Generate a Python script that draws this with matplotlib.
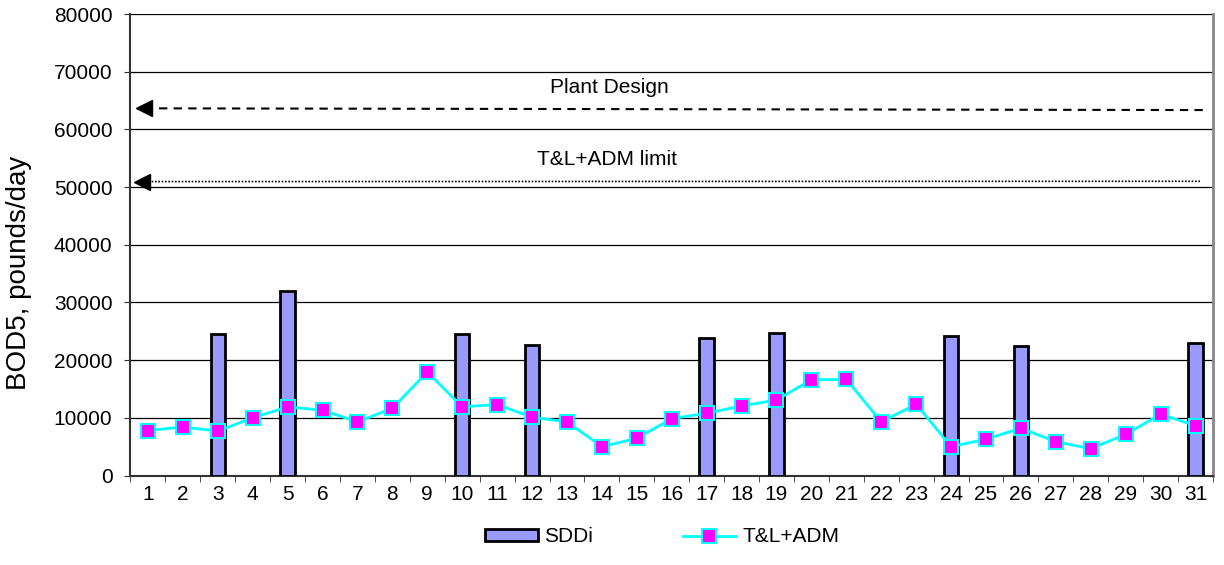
import numpy as np
import matplotlib.pyplot as plt
from matplotlib.ticker import MultipleLocator, FixedLocator

plt.rcParams['font.family'] = ['Liberation Sans', 'DejaVu Sans']

# Daily BOD5 loads, pounds/day
days = np.arange(1, 32)
tl_adm = [7800, 8400, 7700, 10000, 11900, 11300, 9300, 11650, 17950, 11900,
          12300, 10100, 9300, 5000, 6450, 9850, 10800, 12050, 13100, 16600,
          16650, 9300, 12350, 5000, 6300, 8200, 5850, 4650, 7150, 10600, 8650]
sddi_days = [3, 5, 10, 12, 17, 19, 24, 26, 31]
sddi = [24600, 32000, 24450, 22600, 23900, 24700, 24250, 22450, 22950]

# hand-drawn reference lines (left end, right end)
plant_design = [63650, 63350]
tl_limit = [50950, 51000]

fig = plt.figure(figsize=(12.24, 5.65), dpi=100)
ax = fig.add_axes([0.1066, 0.1584, 0.8844, 0.8168])

bars = ax.bar(sddi_days, sddi, width=0.41, color='#9999FF', edgecolor='black',
              linewidth=2, zorder=3, label='SDDi')
line, = ax.plot(days, tl_adm, color='#00FFFF', linewidth=2, marker='s', markersize=10,
                markerfacecolor='#FF00FF', markeredgecolor='#00FFFF', markeredgewidth=1.5,
                zorder=4, label='T&L+ADM')

# reference lines with arrowheads
ax.plot([0.9, 31.27], plant_design, color='black', linewidth=1.5,
        dashes=(4, 3), zorder=2)
ax.plot([0.9], plant_design[:1], marker='<', color='black', markersize=11, zorder=2)
ax.text(14.2, 67200, 'Plant Design', ha='center', va='center', fontsize=15)

ax.plot([0.82, 31.13], tl_limit, color='black', linewidth=1.2,
        linestyle=(0, (1, 1)), zorder=2)
ax.plot([0.82], tl_limit[:1], marker='<', color='black', markersize=11, zorder=2)
ax.text(14.15, 54700, 'T&L+ADM limit', ha='center', va='center', fontsize=15)

ax.set_xlim(0.5, 31.5)
ax.set_ylim(0, 80000)
ax.yaxis.set_major_locator(MultipleLocator(10000))
ax.grid(axis='y', color='black', linewidth=0.9, zorder=1)
ax.set_axisbelow(True)

ax.set_xticks(days)
ax.set_xticklabels([str(d) for d in days])
ax.xaxis.set_minor_locator(FixedLocator(np.arange(0.5, 32, 1)))
ax.tick_params(axis='x', which='major', length=0, labelsize=15, pad=7)
ax.tick_params(axis='x', which='minor', length=4.5, color='#333333')
ax.tick_params(axis='y', length=4, labelsize=15, color='#333333', pad=9)

for side in ['left', 'bottom']:
    ax.spines[side].set_color('#333333')
    ax.spines[side].set_linewidth(1.5)
ax.spines['top'].set_visible(False)
ax.spines['right'].set_color('#888888')
ax.spines['right'].set_linewidth(2)

ax.set_ylabel('BOD5, pounds/day', fontsize=20)
ax.yaxis.set_label_coords(-0.091, 0.439)

fig.legend(handles=[bars, line], loc='center', bbox_to_anchor=(0.541, 0.05), ncol=2,
           frameon=False, fontsize=15, columnspacing=4.3, handlelength=2.55,
           handleheight=0.5, handletextpad=0.3)

fig.savefig('out.png', dpi=100)
